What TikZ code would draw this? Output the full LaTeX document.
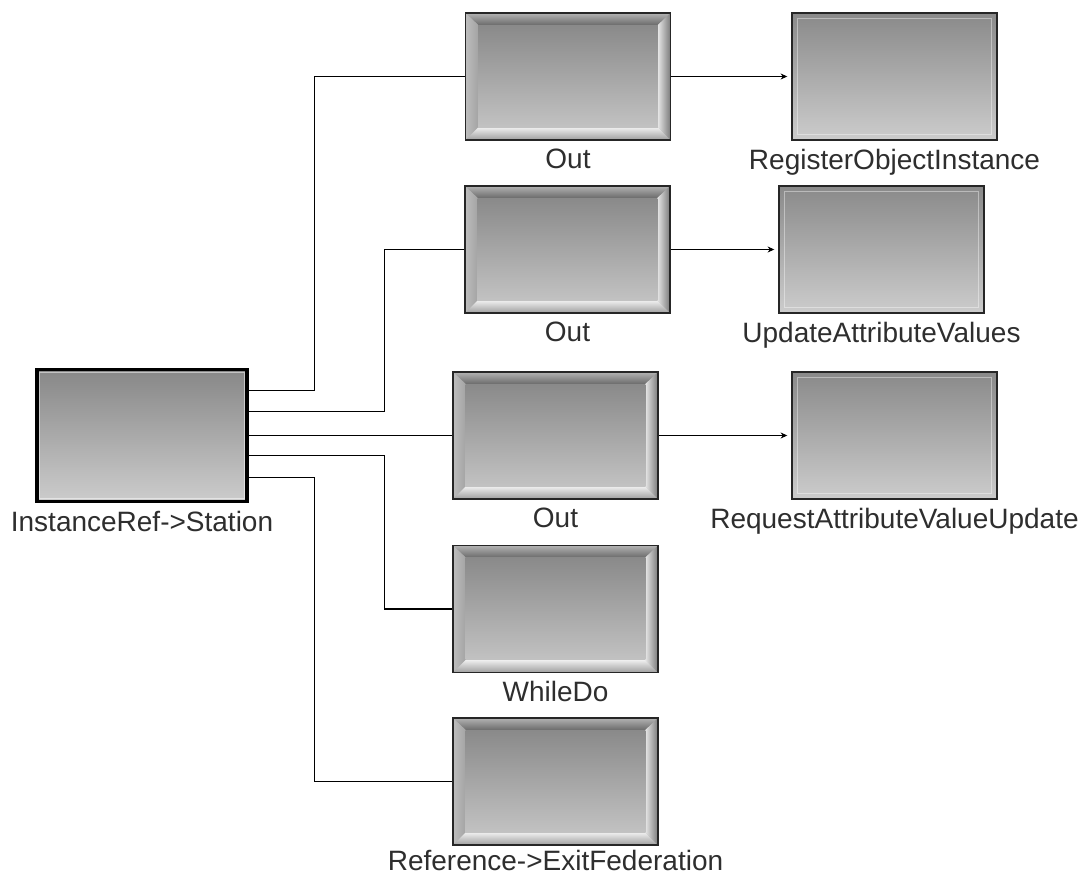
\documentclass[tikz,border=0pt]{standalone}
\usepackage{fontspec}
\setmainfont{Liberation Sans}
\usetikzlibrary{calc,arrows.meta}

\tikzset{
  % text under each block
  lbl/.style={font=\fontsize{21pt}{25pt}\selectfont, text=black!82, inner sep=1.5pt, label distance=4.5pt},
  % block with a raised bevel frame
  bevelbox/.style={rectangle, draw=black!85, line width=1.1pt, inner sep=0pt,
    minimum width=153.75pt, minimum height=95.25pt, fill=black!35,
    path picture={
      \coordinate (p1) at (path picture bounding box.north west);
      \coordinate (p2) at (path picture bounding box.north east);
      \coordinate (p3) at (path picture bounding box.south east);
      \coordinate (p4) at (path picture bounding box.south west);
      \coordinate (q1) at ($(p1)+(9.5pt,-9pt)$);
      \coordinate (q2) at ($(p2)+(-9.5pt,-9pt)$);
      \coordinate (q3) at ($(p3)+(-9.5pt,9.5pt)$);
      \coordinate (q4) at ($(p4)+(9.5pt,9.5pt)$);
      \shade[top color=black!30, bottom color=black!58] (p1)--(p2)--(q2)--(q1)--cycle;
      \shade[left color=black!26, right color=black!36] (p1)--(q1)--(q4)--(p4)--cycle;
      \shade[top color=black!6, bottom color=black!38] (p4)--(q4)--(q3)--(p3)--cycle;
      \shade[left color=black!10, right color=black!52] (p2)--(p3)--(q3)--(q2)--cycle;
      \shade[top color=black!46, bottom color=black!24] (q1) rectangle (q3);
    }},
  % flat block with a thin light frame
  flatbox/.style={rectangle, draw=black!85, line width=1.1pt, inner sep=0pt,
    minimum width=153.75pt, minimum height=95.25pt,
    top color=black!46, bottom color=black!20,
    path picture={
      \draw[white, opacity=0.4, line width=0.8pt]
        ($(path picture bounding box.north west)+(4pt,-4pt)$) rectangle
        ($(path picture bounding box.south east)+(-4pt,4pt)$);
    }},
  % start block with a heavy border
  srcbox/.style={rectangle, draw=black, line width=2.3pt, inner sep=0pt,
    minimum width=157.5pt, minimum height=99pt,
    top color=black!47, bottom color=black!20,
    path picture={
      \draw[white, opacity=0.5, line width=0.7pt]
        ($(path picture bounding box.north west)+(2pt,-2pt)$) rectangle
        ($(path picture bounding box.south east)+(-2pt,2pt)$);
    }},
  wire/.style={draw=black, line width=1pt},
  flow/.style={wire, -{Stealth[length=5pt,width=4.5pt]}, shorten >=3pt},
}

\begin{document}
\begin{tikzpicture}[x=0.75pt, y=-0.75pt]
  \useasboundingbox (0,0) rectangle (1086,878);

  % blocks
  \node[srcbox, label={[lbl]below:InstanceRef->Station}] (src) at (142,435.5) {};

  \node[bevelbox, label={[lbl]below:Out}] (out1) at (568,76.5) {};
  \node[bevelbox, label={[lbl]below:Out}] (out2) at (567.5,249.5) {};
  \node[bevelbox, label={[lbl]below:Out}] (out3) at (555.5,435.5) {};
  \node[bevelbox, label={[lbl]below:WhileDo}] (whiledo) at (555.5,609) {};
  \node[bevelbox, label={[lbl, label distance=1.5pt]below:Reference->ExitFederation}] (exitfed) at (555.5,781.5) {};

  \node[flatbox, label={[lbl]below:RegisterObjectInstance}] (roi) at (894.5,76.5) {};
  \node[flatbox, label={[lbl]below:UpdateAttributeValues}] (uav) at (881.5,249.5) {};
  \node[flatbox, label={[lbl]below:RequestAttributeValueUpdate}] (ravu) at (894.5,435.5) {};

  % branches leaving the start block
  \draw[wire] ($(src.east)+(0,-45)$) -| ($(out1.west)+(-150,0)$) -- (out1.west);
  \draw[wire] ($(src.east)+(0,-24)$) -| ($(out2.west)+(-80,0)$) -- (out2.west);
  \draw[wire] (src.east) -- (out3.west);
  \draw[wire] ($(src.east)+(0,20)$) -| ($(whiledo.west)+(-68,0)$) -- (whiledo.west);
  \draw[wire] ($(src.east)+(0,42)$) -| ($(exitfed.west)+(-138,0)$) -- (exitfed.west);

  % outputs
  \draw[flow] (out1.east) -- (roi.west);
  \draw[flow] (out2.east) -- (uav.west);
  \draw[flow] (out3.east) -- (ravu.west);
\end{tikzpicture}
\end{document}
